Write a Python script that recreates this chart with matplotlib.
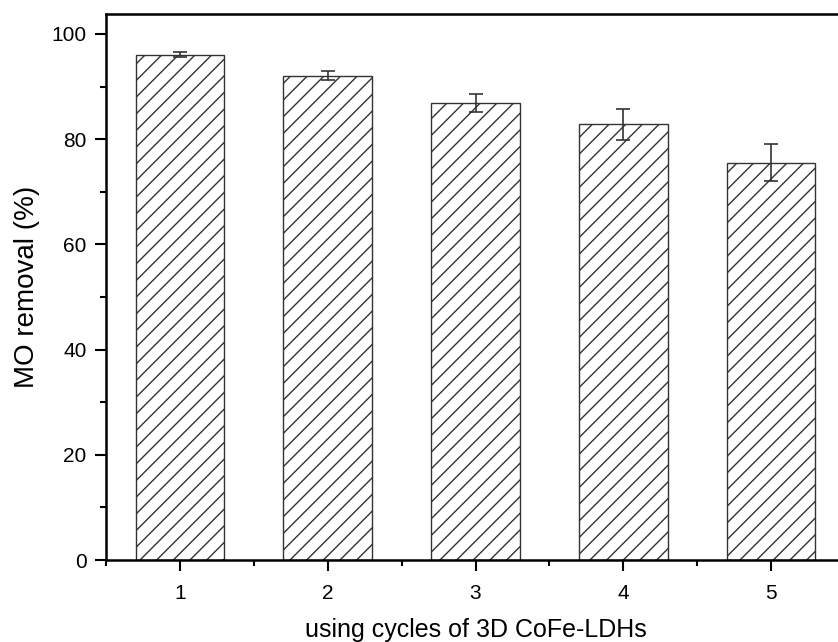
import matplotlib.pyplot as plt
from matplotlib.ticker import MultipleLocator

plt.rcParams["font.family"] = "Liberation Sans"
plt.rcParams["hatch.linewidth"] = 1.0

cycles = [1, 2, 3, 4, 5]
removal = [96.1, 92.1, 86.8, 82.8, 75.5]
err = [0.5, 0.8, 1.7, 3.0, 3.5]

fig = plt.figure(figsize=(8.38, 6.42), dpi=100)
ax = fig.add_axes([106 / 838, 82 / 642, (845 - 106) / 838, (560 - 14) / 642])

ax.bar(
    cycles,
    removal,
    width=0.6,
    color="white",
    edgecolor="#333333",
    linewidth=1.0,
    hatch="//",
)
ax.errorbar(
    cycles,
    removal,
    yerr=err,
    fmt="none",
    ecolor="#333333",
    elinewidth=1.2,
    capsize=5,
    capthick=1.2,
)

ax.set_xlim(0.5, 5.5)
ax.set_ylim(0, 103.8)
ax.set_xticks(cycles)
ax.xaxis.set_minor_locator(MultipleLocator(0.5))
ax.yaxis.set_major_locator(MultipleLocator(20))
ax.yaxis.set_minor_locator(MultipleLocator(10))
ax.tick_params(which="major", direction="out", length=8, width=1.5, labelsize=15)
ax.tick_params(axis="y", which="major", pad=6)
ax.tick_params(axis="x", which="major", pad=9)
ax.tick_params(which="minor", direction="out", length=4, width=1.5)
for s in ax.spines.values():
    s.set_linewidth(1.8)

ax.set_ylabel("MO removal (%)", fontsize=20, labelpad=8)
ax.set_xlabel("using cycles of 3D CoFe-LDHs", fontsize=18, labelpad=11)

fig.savefig("out.png", dpi=100)
